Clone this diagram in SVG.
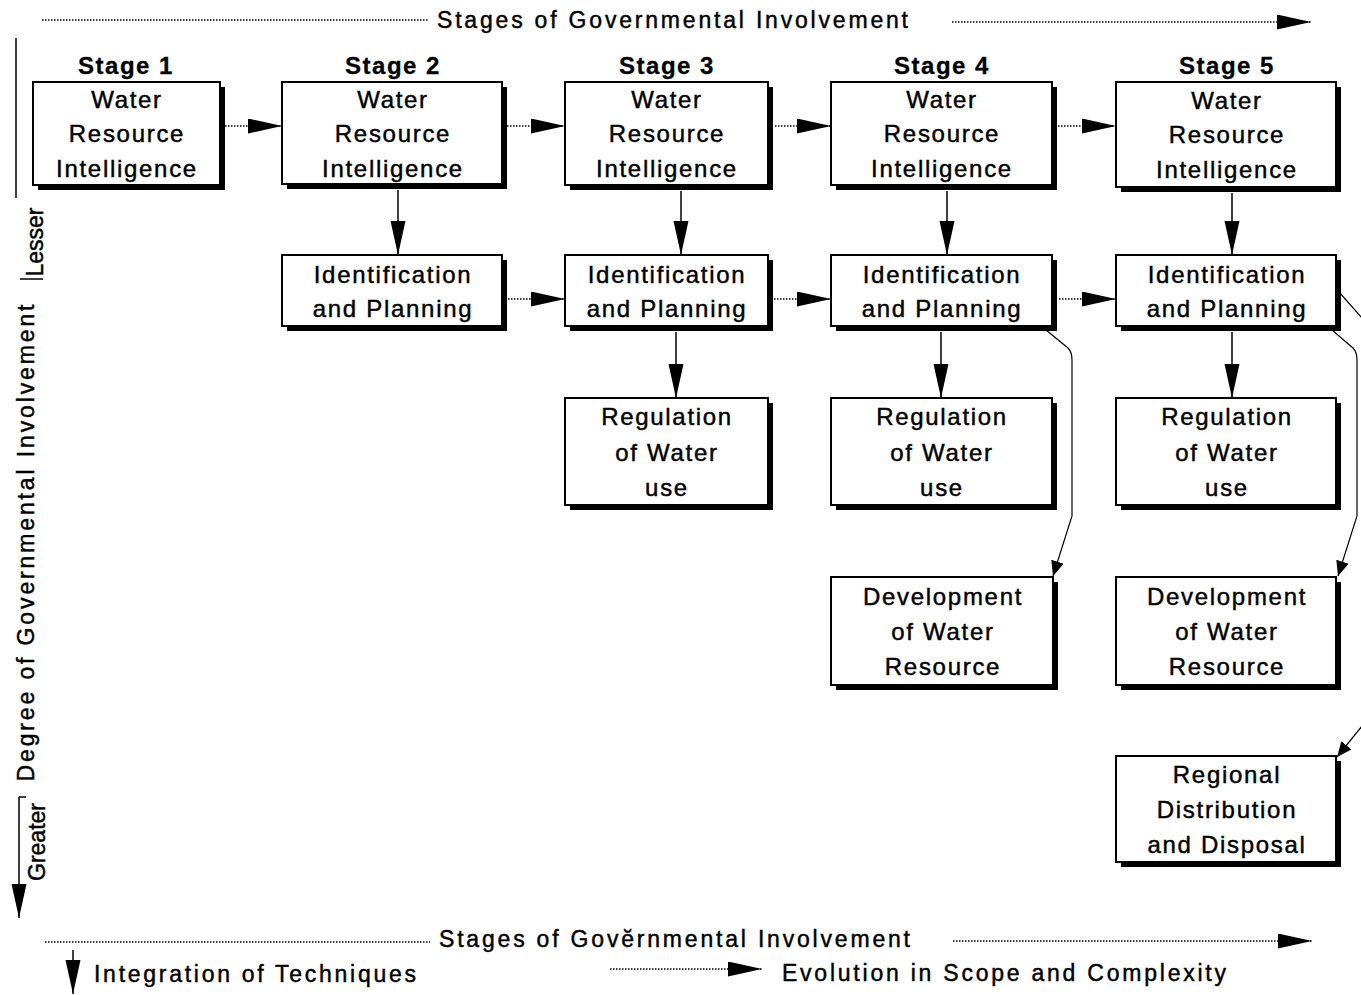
<svg xmlns="http://www.w3.org/2000/svg" width="1361" height="995" viewBox="0 0 1361 995">
<style>
text{font-family:"Liberation Sans",Arial,sans-serif;fill:#000;stroke:#000;stroke-width:0.45}
.hd{font-size:24px;font-weight:bold;text-anchor:middle;letter-spacing:1.5px;stroke-width:0.3}
.bx{font-size:24px;text-anchor:middle;letter-spacing:1.7px}
.lb{font-size:23px}
.sh{fill:#000}
.box{fill:#fff;stroke:#000;stroke-width:2}
.dot{stroke:#000;stroke-width:1.3;stroke-dasharray:1.5 1.5;fill:none}
.sol{stroke:#000;stroke-width:1.5;fill:none}
.thin{stroke:#000;stroke-width:1.2;fill:none}
</style>
<defs>
<marker id="ah" markerUnits="userSpaceOnUse" markerWidth="36" markerHeight="16" refX="34" refY="7.5" orient="auto" viewBox="0 0 36 16">
<path d="M0,0 L34,7.5 L0,15 Z" fill="#000"/>
</marker>
<marker id="as" markerUnits="userSpaceOnUse" markerWidth="16" markerHeight="14" refX="15" refY="6.5" orient="auto" viewBox="0 0 16 14">
<path d="M0,0 L15,6.5 L0,13 Z" fill="#000"/>
</marker>
</defs>

<!-- axes and legend -->
<g id="axes">
<line class="dot" x1="42" y1="20" x2="428" y2="20"/>
<text class="lb" x="437" y="28" textLength="471" lengthAdjust="spacing">Stages of Governmental Involvement</text>
<line class="dot" x1="952" y1="22" x2="1311" y2="22" marker-end="url(#ah)"/>

<line class="sol" x1="16" y1="38" x2="16" y2="198"/>
<line class="sol" x1="20" y1="279" x2="43" y2="279"/>
<text class="lb" font-size="22" text-anchor="middle" transform="translate(43,242) rotate(-90)">Lesser</text>
<text class="lb" text-anchor="middle" transform="translate(34,543) rotate(-90)" textLength="477" lengthAdjust="spacing">Degree of Governmental Involvement</text>
<text class="lb" font-size="22" text-anchor="middle" transform="translate(45,842) rotate(-90)">Greater</text>
<line class="sol" x1="19" y1="797" x2="26" y2="797"/>
<line class="sol" x1="19" y1="797" x2="19" y2="918" marker-end="url(#ah)"/>

<line class="dot" x1="45" y1="942" x2="430" y2="942"/>
<text class="lb" x="439" y="947" textLength="471" lengthAdjust="spacing">Stages of Govĕrnmental Involvement</text>
<line class="dot" x1="953" y1="941" x2="1312" y2="941" marker-end="url(#ah)"/>

<line class="sol" x1="73" y1="950" x2="73" y2="994" marker-end="url(#ah)"/>
<text class="lb" x="94" y="982" textLength="322" lengthAdjust="spacing">Integration of Techniques</text>
<line class="dot" x1="610" y1="969" x2="762" y2="969" marker-end="url(#ah)"/>
<text class="lb" x="782" y="981" textLength="444" lengthAdjust="spacing">Evolution in Scope and Complexity</text>
</g>

<!-- stage headers -->
<g id="headers">
<text class="hd" x="126" y="74">Stage 1</text>
<text class="hd" x="393" y="74">Stage 2</text>
<text class="hd" x="667" y="74">Stage 3</text>
<text class="hd" x="942" y="74">Stage 4</text>
<text class="hd" x="1227" y="74">Stage 5</text>
</g>

<!-- connectors -->
<g id="connectors">
<line class="dot" x1="225" y1="126" x2="282" y2="126" marker-end="url(#ah)"/>
<line class="dot" x1="507" y1="126" x2="565" y2="126" marker-end="url(#ah)"/>
<line class="dot" x1="775" y1="126" x2="831" y2="126" marker-end="url(#ah)"/>
<line class="dot" x1="1058" y1="126" x2="1116" y2="126" marker-end="url(#ah)"/>

<line class="dot" x1="508" y1="299" x2="565" y2="299" marker-end="url(#ah)"/>
<line class="dot" x1="774" y1="299" x2="831" y2="299" marker-end="url(#ah)"/>
<line class="dot" x1="1059" y1="299" x2="1116" y2="299" marker-end="url(#ah)"/>

<line class="sol" x1="398" y1="190" x2="398" y2="255" marker-end="url(#ah)"/>
<line class="sol" x1="681" y1="191" x2="681" y2="255" marker-end="url(#ah)"/>
<line class="sol" x1="947" y1="191" x2="947" y2="255" marker-end="url(#ah)"/>
<line class="sol" x1="1232" y1="193" x2="1232" y2="255" marker-end="url(#ah)"/>

<line class="sol" x1="676" y1="332" x2="676" y2="398" marker-end="url(#ah)"/>
<line class="sol" x1="941" y1="332" x2="941" y2="398" marker-end="url(#ah)"/>
<line class="sol" x1="1232" y1="332" x2="1232" y2="398" marker-end="url(#ah)"/>

<path class="thin" d="M1046,330 L1068,348 Q1072,352 1072,360 L1072,516 L1053,576" marker-end="url(#as)"/>
<path class="thin" d="M1332,330 L1353,348 Q1357,352 1357,360 L1357,516 L1338,576" marker-end="url(#as)"/>
<path class="thin" d="M1339,292 L1362,318"/>
<path class="thin" d="M1362,726 L1337,757" marker-end="url(#as)"/>
</g>

<!-- Stage 1 -->
<g id="s1-wri">
<rect class="sh" x="38" y="87" width="187" height="103"/>
<rect class="box" x="33" y="82" width="187" height="103"/>
<text class="bx" x="127" y="108">Water</text>
<text class="bx" x="127" y="142">Resource</text>
<text class="bx" x="127" y="177">Intelligence</text>
</g>

<!-- Stage 2 -->
<g id="s2-wri">
<rect class="sh" x="287" y="87" width="220" height="102"/>
<rect class="box" x="282" y="82" width="220" height="102"/>
<text class="bx" x="393" y="108">Water</text>
<text class="bx" x="393" y="142">Resource</text>
<text class="bx" x="393" y="177">Intelligence</text>
</g>
<g id="s2-ip">
<rect class="sh" x="287" y="260" width="220" height="71"/>
<rect class="box" x="282" y="255" width="220" height="71"/>
<text class="bx" x="393" y="283">Identification</text>
<text class="bx" x="393" y="317">and Planning</text>
</g>

<!-- Stage 3 -->
<g id="s3-wri">
<rect class="sh" x="570" y="87" width="203" height="103"/>
<rect class="box" x="565" y="82" width="203" height="103"/>
<text class="bx" x="667" y="108">Water</text>
<text class="bx" x="667" y="142">Resource</text>
<text class="bx" x="667" y="177">Intelligence</text>
</g>
<g id="s3-ip">
<rect class="sh" x="570" y="260" width="203" height="71"/>
<rect class="box" x="565" y="255" width="203" height="71"/>
<text class="bx" x="667" y="283">Identification</text>
<text class="bx" x="667" y="317">and Planning</text>
</g>
<g id="s3-reg">
<rect class="sh" x="570" y="403" width="203" height="107"/>
<rect class="box" x="565" y="398" width="203" height="107"/>
<text class="bx" x="667" y="425">Regulation</text>
<text class="bx" x="667" y="461">of Water</text>
<text class="bx" x="667" y="496">use</text>
</g>

<!-- Stage 4 -->
<g id="s4-wri">
<rect class="sh" x="836" y="87" width="221" height="103"/>
<rect class="box" x="831" y="82" width="221" height="103"/>
<text class="bx" x="942" y="108">Water</text>
<text class="bx" x="942" y="142">Resource</text>
<text class="bx" x="942" y="177">Intelligence</text>
</g>
<g id="s4-ip">
<rect class="sh" x="836" y="260" width="221" height="71"/>
<rect class="box" x="831" y="255" width="221" height="71"/>
<text class="bx" x="942" y="283">Identification</text>
<text class="bx" x="942" y="317">and Planning</text>
</g>
<g id="s4-reg">
<rect class="sh" x="836" y="403" width="221" height="107"/>
<rect class="box" x="831" y="398" width="221" height="107"/>
<text class="bx" x="942" y="425">Regulation</text>
<text class="bx" x="942" y="461">of Water</text>
<text class="bx" x="942" y="496">use</text>
</g>
<g id="s4-dev">
<rect class="sh" x="836" y="582" width="222" height="108"/>
<rect class="box" x="831" y="577" width="222" height="108"/>
<text class="bx" x="943" y="605">Development</text>
<text class="bx" x="943" y="640">of Water</text>
<text class="bx" x="943" y="675">Resource</text>
</g>

<!-- Stage 5 -->
<g id="s5-wri">
<rect class="sh" x="1121" y="87" width="220" height="105"/>
<rect class="box" x="1116" y="82" width="220" height="105"/>
<text class="bx" x="1227" y="109">Water</text>
<text class="bx" x="1227" y="143">Resource</text>
<text class="bx" x="1227" y="178">Intelligence</text>
</g>
<g id="s5-ip">
<rect class="sh" x="1121" y="260" width="220" height="71"/>
<rect class="box" x="1116" y="255" width="220" height="71"/>
<text class="bx" x="1227" y="283">Identification</text>
<text class="bx" x="1227" y="317">and Planning</text>
</g>
<g id="s5-reg">
<rect class="sh" x="1121" y="403" width="220" height="107"/>
<rect class="box" x="1116" y="398" width="220" height="107"/>
<text class="bx" x="1227" y="425">Regulation</text>
<text class="bx" x="1227" y="461">of Water</text>
<text class="bx" x="1227" y="496">use</text>
</g>
<g id="s5-dev">
<rect class="sh" x="1121" y="582" width="220" height="108"/>
<rect class="box" x="1116" y="577" width="220" height="108"/>
<text class="bx" x="1227" y="605">Development</text>
<text class="bx" x="1227" y="640">of Water</text>
<text class="bx" x="1227" y="675">Resource</text>
</g>
<g id="s5-rdd">
<rect class="sh" x="1121" y="761" width="220" height="106"/>
<rect class="box" x="1116" y="756" width="220" height="106"/>
<text class="bx" x="1227" y="783">Regional</text>
<text class="bx" x="1227" y="818">Distribution</text>
<text class="bx" x="1227" y="853">and Disposal</text>
</g>
</svg>
